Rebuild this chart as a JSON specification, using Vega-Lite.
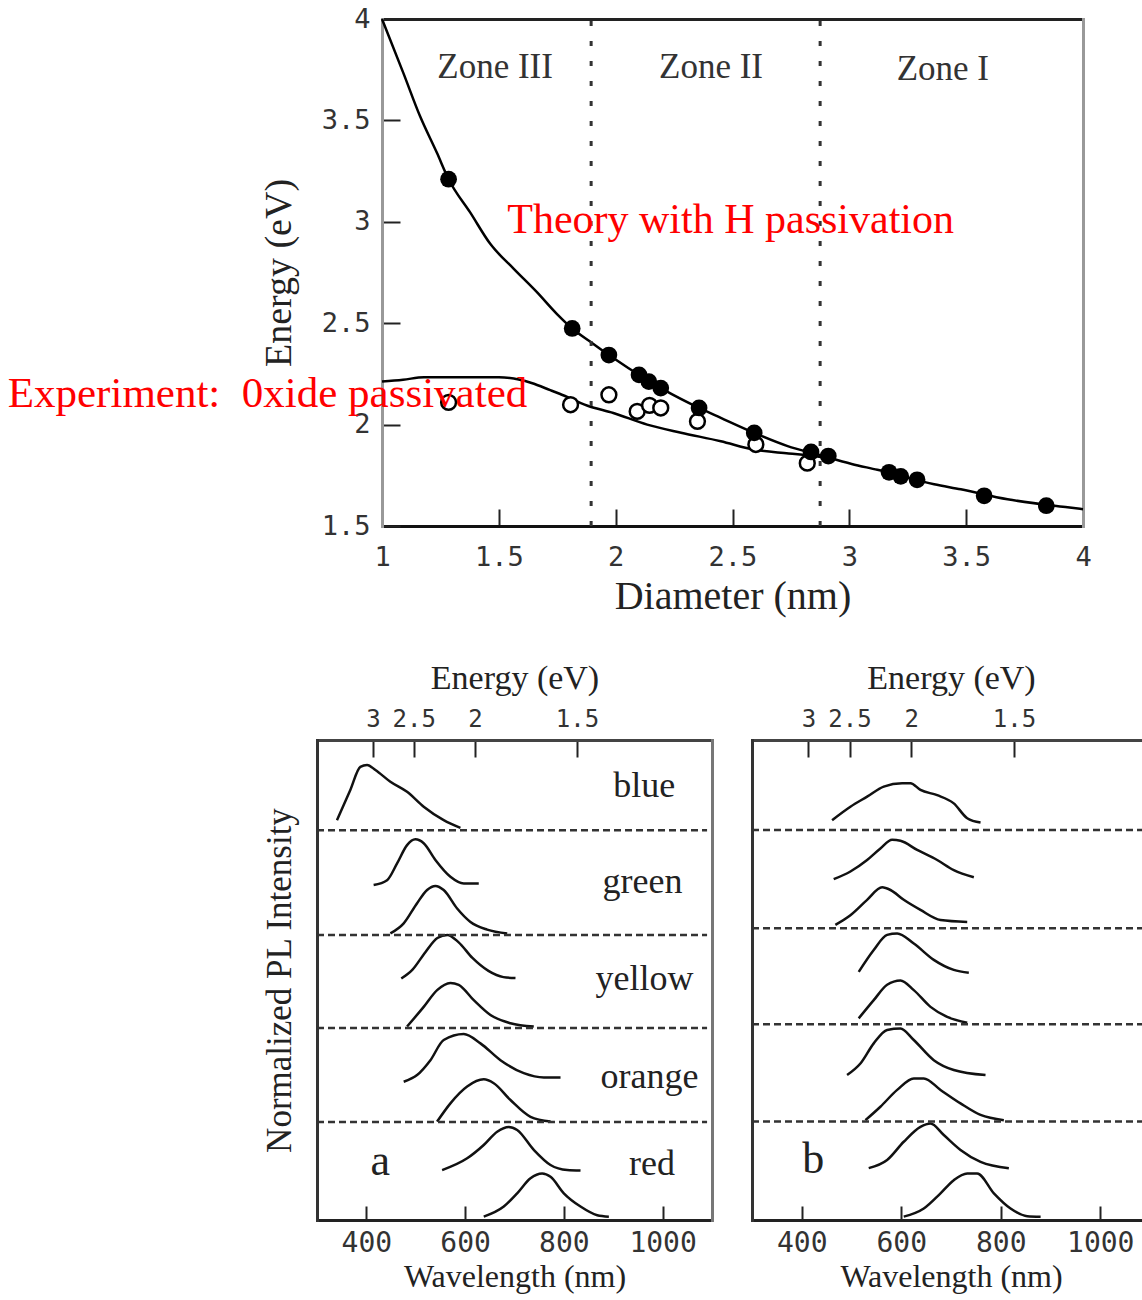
{
  "$schema": "https://vega.github.io/schema/vega-lite/v6.json",
  "width": 1142,
  "height": 1300,
  "autosize": {"type": "none"},
  "padding": 0,
  "background": "white",
  "config": {
    "view": {"stroke": null},
    "axis": {
      "grid": false, "domain": false, "labelFlush": false, "labelOverlap": false, "labelBound": false,
      "titleFontWeight": "normal", "titleFont": "Liberation Serif", "titleColor": "#222",
      "labelFont": "DejaVu Sans Mono", "labelColor": "#333", "tickColor": "#222", "tickWidth": 2,
      "minExtent": 0, "domainCap": "square"
    }
  },
  "datasets": {
    "curves": [
      {"s": "theory", "d": 1.0, "E": 4.0}, {"s": "theory", "d": 1.092, "E": 3.732}, {"s": "theory", "d": 1.163, "E": 3.52},
      {"s": "theory", "d": 1.235, "E": 3.34}, {"s": "theory", "d": 1.285, "E": 3.21}, {"s": "theory", "d": 1.378, "E": 3.045},
      {"s": "theory", "d": 1.464, "E": 2.89}, {"s": "theory", "d": 1.564, "E": 2.768}, {"s": "theory", "d": 1.663, "E": 2.653},
      {"s": "theory", "d": 1.749, "E": 2.545}, {"s": "theory", "d": 1.814, "E": 2.474}, {"s": "theory", "d": 1.892, "E": 2.408},
      {"s": "theory", "d": 1.971, "E": 2.343}, {"s": "theory", "d": 2.135, "E": 2.22}, {"s": "theory", "d": 2.207, "E": 2.171},
      {"s": "theory", "d": 2.357, "E": 2.082}, {"s": "theory", "d": 2.45, "E": 2.033}, {"s": "theory", "d": 2.593, "E": 1.959},
      {"s": "theory", "d": 2.736, "E": 1.894}, {"s": "theory", "d": 2.864, "E": 1.853}, {"s": "theory", "d": 3.01, "E": 1.806},
      {"s": "theory", "d": 3.12, "E": 1.777}, {"s": "theory", "d": 3.363, "E": 1.706}, {"s": "theory", "d": 3.477, "E": 1.681},
      {"s": "theory", "d": 3.677, "E": 1.632}, {"s": "theory", "d": 3.934, "E": 1.592}, {"s": "theory", "d": 4.0, "E": 1.583},
      {"s": "oxide", "d": 1.0, "E": 2.212}, {"s": "oxide", "d": 1.09, "E": 2.221}, {"s": "oxide", "d": 1.18, "E": 2.234},
      {"s": "oxide", "d": 1.5, "E": 2.234}, {"s": "oxide", "d": 1.59, "E": 2.221}, {"s": "oxide", "d": 1.64, "E": 2.205},
      {"s": "oxide", "d": 1.72, "E": 2.17}, {"s": "oxide", "d": 1.76, "E": 2.152}, {"s": "oxide", "d": 1.88, "E": 2.093},
      {"s": "oxide", "d": 1.99, "E": 2.057}, {"s": "oxide", "d": 2.135, "E": 2.0}, {"s": "oxide", "d": 2.28, "E": 1.96},
      {"s": "oxide", "d": 2.45, "E": 1.918}, {"s": "oxide", "d": 2.59, "E": 1.877}, {"s": "oxide", "d": 2.74, "E": 1.858},
      {"s": "oxide", "d": 2.85, "E": 1.845}, {"s": "oxide", "d": 2.93, "E": 1.828}
    ],
    "pts": [
      {"t": "open", "d": 1.285, "E": 2.11}, {"t": "open", "d": 1.807, "E": 2.098}, {"t": "open", "d": 1.971, "E": 2.147},
      {"t": "open", "d": 2.092, "E": 2.065}, {"t": "open", "d": 2.145, "E": 2.095}, {"t": "open", "d": 2.193, "E": 2.082},
      {"t": "open", "d": 2.35, "E": 2.016}, {"t": "open", "d": 2.6, "E": 1.902}, {"t": "open", "d": 2.82, "E": 1.81},
      {"t": "filled", "d": 1.285, "E": 3.21}, {"t": "filled", "d": 1.814, "E": 2.474}, {"t": "filled", "d": 1.971, "E": 2.343},
      {"t": "filled", "d": 2.1, "E": 2.245}, {"t": "filled", "d": 2.142, "E": 2.212}, {"t": "filled", "d": 2.193, "E": 2.18},
      {"t": "filled", "d": 2.357, "E": 2.082}, {"t": "filled", "d": 2.593, "E": 1.959}, {"t": "filled", "d": 2.836, "E": 1.865},
      {"t": "filled", "d": 2.91, "E": 1.845}, {"t": "filled", "d": 3.17, "E": 1.765}, {"t": "filled", "d": 3.22, "E": 1.745},
      {"t": "filled", "d": 3.29, "E": 1.728}, {"t": "filled", "d": 3.577, "E": 1.649}, {"t": "filled", "d": 3.843, "E": 1.6}
    ],
    "specA": [
      {"c": "a1", "w": 340.5, "i": 8.33}, {"c": "a1", "w": 367.5, "i": 8.96}, {"c": "a1", "w": 387.8, "i": 9.44}, {"c": "a1", "w": 401.4, "i": 9.48},
      {"c": "a1", "w": 418.3, "i": 9.375}, {"c": "a1", "w": 448.6, "i": 9.13}, {"c": "a1", "w": 482.4, "i": 8.92}, {"c": "a1", "w": 516.1, "i": 8.61},
      {"c": "a1", "w": 556.6, "i": 8.33}, {"c": "a1", "w": 590.5, "i": 8.17},
      {"c": "a2", "w": 414.7, "i": 6.98}, {"c": "a2", "w": 441.9, "i": 7.08}, {"c": "a2", "w": 462.2, "i": 7.43}, {"c": "a2", "w": 482.4, "i": 7.81},
      {"c": "a2", "w": 499.3, "i": 7.93}, {"c": "a2", "w": 516.1, "i": 7.85}, {"c": "a2", "w": 539.8, "i": 7.5}, {"c": "a2", "w": 570.2, "i": 7.15},
      {"c": "a2", "w": 597.2, "i": 7.01}, {"c": "a2", "w": 627.6, "i": 7.01},
      {"c": "a3", "w": 448.6, "i": 5.97}, {"c": "a3", "w": 475.6, "i": 6.18}, {"c": "a3", "w": 502.7, "i": 6.6}, {"c": "a3", "w": 523, "i": 6.875},
      {"c": "a3", "w": 539.8, "i": 6.96}, {"c": "a3", "w": 556.6, "i": 6.875}, {"c": "a3", "w": 583.8, "i": 6.49}, {"c": "a3", "w": 610.8, "i": 6.21},
      {"c": "a3", "w": 644.6, "i": 6.05}, {"c": "a3", "w": 685.2, "i": 5.97},
      {"c": "a4", "w": 470.7, "i": 5.03}, {"c": "a4", "w": 493, "i": 5.21}, {"c": "a4", "w": 519.5, "i": 5.58}, {"c": "a4", "w": 543.8, "i": 5.875},
      {"c": "a4", "w": 564, "i": 5.94}, {"c": "a4", "w": 586.4, "i": 5.79}, {"c": "a4", "w": 614.8, "i": 5.46}, {"c": "a4", "w": 647.2, "i": 5.19},
      {"c": "a4", "w": 677.6, "i": 5.06}, {"c": "a4", "w": 702, "i": 5.04},
      {"c": "a5", "w": 482.4, "i": 4.03}, {"c": "a5", "w": 516.1, "i": 4.44}, {"c": "a5", "w": 543.3, "i": 4.79}, {"c": "a5", "w": 570.2, "i": 4.94},
      {"c": "a5", "w": 587, "i": 4.9}, {"c": "a5", "w": 617.5, "i": 4.58}, {"c": "a5", "w": 651.3, "i": 4.27}, {"c": "a5", "w": 691.8, "i": 4.1},
      {"c": "a5", "w": 739, "i": 4.03},
      {"c": "a6", "w": 475.6, "i": 2.88}, {"c": "a6", "w": 502.7, "i": 3.02}, {"c": "a6", "w": 529.7, "i": 3.33}, {"c": "a6", "w": 556.6, "i": 3.75},
      {"c": "a6", "w": 597.2, "i": 3.875}, {"c": "a6", "w": 631, "i": 3.68}, {"c": "a6", "w": 671.6, "i": 3.33}, {"c": "a6", "w": 718.8, "i": 3.06},
      {"c": "a6", "w": 759.4, "i": 2.97}, {"c": "a6", "w": 793.2, "i": 2.97},
      {"c": "a7", "w": 543.3, "i": 2.05}, {"c": "a7", "w": 570.2, "i": 2.43}, {"c": "a7", "w": 604.1, "i": 2.78}, {"c": "a7", "w": 637.7, "i": 2.93},
      {"c": "a7", "w": 658, "i": 2.85}, {"c": "a7", "w": 691.8, "i": 2.5}, {"c": "a7", "w": 732.4, "i": 2.15}, {"c": "a7", "w": 773, "i": 2.05},
      {"c": "a8", "w": 553.4, "i": 1.04}, {"c": "a8", "w": 604.1, "i": 1.285}, {"c": "a8", "w": 637.7, "i": 1.5625}, {"c": "a8", "w": 664.9, "i": 1.84},
      {"c": "a8", "w": 688.4, "i": 1.94}, {"c": "a8", "w": 705.4, "i": 1.875}, {"c": "a8", "w": 739.1, "i": 1.46}, {"c": "a8", "w": 772.9, "i": 1.146},
      {"c": "a8", "w": 806.8, "i": 1.04}, {"c": "a8", "w": 833.7, "i": 1.03},
      {"c": "a9", "w": 637.7, "i": 0.07}, {"c": "a9", "w": 678.3, "i": 0.28}, {"c": "a9", "w": 705.4, "i": 0.556}, {"c": "a9", "w": 732.4, "i": 0.87},
      {"c": "a9", "w": 756.1, "i": 0.97}, {"c": "a9", "w": 773, "i": 0.9}, {"c": "a9", "w": 799.9, "i": 0.556}, {"c": "a9", "w": 833.7, "i": 0.28},
      {"c": "a9", "w": 867.6, "i": 0.1}, {"c": "a9", "w": 891.1, "i": 0.07}
    ],
    "specB": [
      {"c": "b1", "w": 461, "i": 8.33}, {"c": "b1", "w": 497.8, "i": 8.61}, {"c": "b1", "w": 531.4, "i": 8.82}, {"c": "b1", "w": 564.8, "i": 9.03},
      {"c": "b1", "w": 601.8, "i": 9.1}, {"c": "b1", "w": 618.5, "i": 9.1}, {"c": "b1", "w": 638.6, "i": 8.96}, {"c": "b1", "w": 672.2, "i": 8.85},
      {"c": "b1", "w": 705.6, "i": 8.68}, {"c": "b1", "w": 732.6, "i": 8.37}, {"c": "b1", "w": 759.4, "i": 8.28},
      {"c": "b2", "w": 464.2, "i": 7.1}, {"c": "b2", "w": 497.8, "i": 7.26}, {"c": "b2", "w": 531.4, "i": 7.5}, {"c": "b2", "w": 558.1, "i": 7.74},
      {"c": "b2", "w": 581.7, "i": 7.92}, {"c": "b2", "w": 598.4, "i": 7.9}, {"c": "b2", "w": 632, "i": 7.71}, {"c": "b2", "w": 672.2, "i": 7.5},
      {"c": "b2", "w": 705.6, "i": 7.29}, {"c": "b2", "w": 745.9, "i": 7.14},
      {"c": "b3", "w": 467.6, "i": 6.15}, {"c": "b3", "w": 497.8, "i": 6.35}, {"c": "b3", "w": 531.4, "i": 6.67}, {"c": "b3", "w": 561.6, "i": 6.93},
      {"c": "b3", "w": 578.3, "i": 6.875}, {"c": "b3", "w": 605, "i": 6.67}, {"c": "b3", "w": 638.6, "i": 6.46}, {"c": "b3", "w": 678.9, "i": 6.25},
      {"c": "b3", "w": 732.6, "i": 6.21},
      {"c": "b4", "w": 514.5, "i": 5.17}, {"c": "b4", "w": 544.7, "i": 5.625}, {"c": "b4", "w": 571.6, "i": 5.94}, {"c": "b4", "w": 591.8, "i": 5.97},
      {"c": "b4", "w": 625.2, "i": 5.76}, {"c": "b4", "w": 665.4, "i": 5.42}, {"c": "b4", "w": 705.6, "i": 5.21}, {"c": "b4", "w": 735.8, "i": 5.15},
      {"c": "b5", "w": 514.5, "i": 4.2}, {"c": "b5", "w": 544.7, "i": 4.58}, {"c": "b5", "w": 571.6, "i": 4.9}, {"c": "b5", "w": 598.4, "i": 4.99},
      {"c": "b5", "w": 625.2, "i": 4.79}, {"c": "b5", "w": 658.8, "i": 4.44}, {"c": "b5", "w": 692.4, "i": 4.23}, {"c": "b5", "w": 732.6, "i": 4.11},
      {"c": "b6", "w": 491.1, "i": 3.02}, {"c": "b6", "w": 517.9, "i": 3.26}, {"c": "b6", "w": 544.7, "i": 3.68}, {"c": "b6", "w": 571.6, "i": 3.96},
      {"c": "b6", "w": 598.4, "i": 3.99}, {"c": "b6", "w": 625.2, "i": 3.75}, {"c": "b6", "w": 665.4, "i": 3.33}, {"c": "b6", "w": 705.6, "i": 3.125},
      {"c": "b6", "w": 769.4, "i": 3.02},
      {"c": "b7", "w": 528, "i": 2.08}, {"c": "b7", "w": 558.1, "i": 2.36}, {"c": "b7", "w": 591.8, "i": 2.71}, {"c": "b7", "w": 625.2, "i": 2.95},
      {"c": "b7", "w": 645.3, "i": 2.95}, {"c": "b7", "w": 678.9, "i": 2.71}, {"c": "b7", "w": 719.1, "i": 2.43}, {"c": "b7", "w": 759.4, "i": 2.19},
      {"c": "b7", "w": 806.2, "i": 2.08},
      {"c": "b8", "w": 534.6, "i": 1.08}, {"c": "b8", "w": 571.6, "i": 1.25}, {"c": "b8", "w": 605, "i": 1.63}, {"c": "b8", "w": 638.6, "i": 1.94},
      {"c": "b8", "w": 658.8, "i": 2.01}, {"c": "b8", "w": 685.5, "i": 1.77}, {"c": "b8", "w": 719.1, "i": 1.46}, {"c": "b8", "w": 759.4, "i": 1.21},
      {"c": "b8", "w": 816.3, "i": 1.08},
      {"c": "b9", "w": 605, "i": 0.07}, {"c": "b9", "w": 645.3, "i": 0.24}, {"c": "b9", "w": 678.9, "i": 0.556}, {"c": "b9", "w": 705.6, "i": 0.83},
      {"c": "b9", "w": 732.6, "i": 0.97}, {"c": "b9", "w": 752.7, "i": 0.97}, {"c": "b9", "w": 786.2, "i": 0.556}, {"c": "b9", "w": 819.7, "i": 0.24},
      {"c": "b9", "w": 853.3, "i": 0.08}, {"c": "b9", "w": 880.1, "i": 0.07}
    ]
  },
  "layer": [
    {
      "data": {"name": "curves"},
      "mark": {"type": "line", "color": "black", "strokeWidth": 2.5, "interpolate": "monotone"},
      "encoding": {
        "x": {"field": "d", "type": "quantitative",
          "scale": {"domain": [1, 4], "range": [382, 1083], "nice": false, "zero": false},
          "axis": {"orient": "bottom", "offset": -774, "values": [1, 1.5, 2, 2.5, 3, 3.5, 4], "format": "~g", "tickSize": -17, "labelPadding": 35,
            "labelFontSize": 27, "title": "Diameter (nm)", "titleFontSize": 40, "titlePadding": 6,
            "domain": true, "domainColor": "#111", "domainWidth": 3}},
        "y": {"field": "E", "type": "quantitative",
          "scale": {"domain": [1.5, 4], "range": [526, 19], "nice": false, "zero": false},
          "axis": {"orient": "left", "offset": -382, "values": [1.5, 2, 2.5, 3, 3.5, 4], "format": "~g", "tickSize": -18, "labelPadding": 30,
            "labelFontSize": 27, "title": "Energy (eV)", "titleFontSize": 38, "titlePadding": 23,
            "domain": true, "domainColor": "#999", "domainWidth": 3}},
        "detail": {"field": "s"}
      }
    },
    {
      "data": {"values": [{"z": 1.895}, {"z": 2.875}]},
      "mark": {"type": "rule", "strokeDash": [5, 15], "strokeWidth": 3, "color": "#333"},
      "encoding": {
        "x": {"field": "z", "type": "quantitative",
          "scale": {"domain": [1, 4], "range": [382, 1083], "nice": false, "zero": false},
          "axis": {"orient": "top", "offset": -19, "ticks": false, "labels": false, "title": null,
            "domain": true, "domainColor": "#222", "domainWidth": 3}},
        "y": {"datum": 1.5, "type": "quantitative",
          "scale": {"domain": [1.5, 4], "range": [526, 19], "nice": false, "zero": false},
          "axis": {"orient": "right", "offset": -59, "ticks": false, "labels": false, "title": null,
            "domain": true, "domainColor": "#999", "domainWidth": 3}},
        "y2": {"datum": 4}
      }
    },
    {
      "data": {"name": "pts"},
      "transform": [{"filter": "datum.t == 'open'"}],
      "mark": {"type": "point", "shape": "circle", "filled": true, "fill": "white", "stroke": "black", "strokeWidth": 2.5, "size": 220, "opacity": 1},
      "encoding": {
        "x": {"field": "d", "type": "quantitative", "scale": {"domain": [1, 4], "range": [382, 1083], "nice": false, "zero": false}, "axis": null},
        "y": {"field": "E", "type": "quantitative", "scale": {"domain": [1.5, 4], "range": [526, 19], "nice": false, "zero": false}, "axis": null}
      }
    },
    {
      "data": {"name": "pts"},
      "transform": [{"filter": "datum.t == 'filled'"}],
      "mark": {"type": "circle", "color": "black", "size": 280, "opacity": 1},
      "encoding": {
        "x": {"field": "d", "type": "quantitative", "scale": {"domain": [1, 4], "range": [382, 1083], "nice": false, "zero": false}, "axis": null},
        "y": {"field": "E", "type": "quantitative", "scale": {"domain": [1.5, 4], "range": [526, 19], "nice": false, "zero": false}, "axis": null}
      }
    },
    {
      "data": {"values": [{"d": 1.484, "E": 3.71, "t": "Zone III"}, {"d": 2.408, "E": 3.71, "t": "Zone II"}, {"d": 3.4, "E": 3.7, "t": "Zone I"}]},
      "mark": {"type": "text", "font": "Liberation Serif", "fontSize": 35, "color": "#333", "align": "center", "baseline": "alphabetic"},
      "encoding": {
        "x": {"field": "d", "type": "quantitative", "scale": {"domain": [1, 4], "range": [382, 1083], "nice": false, "zero": false}, "axis": null},
        "y": {"field": "E", "type": "quantitative", "scale": {"domain": [1.5, 4], "range": [526, 19], "nice": false, "zero": false}, "axis": null},
        "text": {"field": "t"}
      }
    },
    {
      "data": {"values": [{"d": 1.536, "E": 2.943, "t": "Theory with H passivation"}]},
      "mark": {"type": "text", "font": "Liberation Serif", "fontSize": 42, "color": "#ff0000", "align": "left", "baseline": "alphabetic"},
      "encoding": {
        "x": {"field": "d", "type": "quantitative", "scale": {"domain": [1, 4], "range": [382, 1083], "nice": false, "zero": false}, "axis": null},
        "y": {"field": "E", "type": "quantitative", "scale": {"domain": [1.5, 4], "range": [526, 19], "nice": false, "zero": false}, "axis": null},
        "text": {"field": "t"}
      }
    },
    {
      "data": {"values": [{"d": 1.6215, "E": 2.089, "t": "Experiment:\u00a0 0xide passivated"}]},
      "mark": {"type": "text", "font": "Liberation Serif", "fontSize": 43, "color": "#ff0000", "align": "right", "baseline": "alphabetic"},
      "encoding": {
        "x": {"field": "d", "type": "quantitative", "scale": {"domain": [1, 4], "range": [382, 1083], "nice": false, "zero": false}, "axis": null},
        "y": {"field": "E", "type": "quantitative", "scale": {"domain": [1.5, 4], "range": [526, 19], "nice": false, "zero": false}, "axis": null},
        "text": {"field": "t"}
      }
    },
    {
      "data": {"name": "specA"},
      "mark": {"type": "line", "color": "#111", "strokeWidth": 2.5, "interpolate": "monotone"},
      "encoding": {
        "x": {"field": "w", "type": "quantitative",
          "scale": {"domain": [300, 1100], "range": [317, 712], "nice": false, "zero": false},
          "axis": {"orient": "bottom", "offset": -80, "values": [400, 600, 800, 1000], "format": "d", "tickSize": -14, "labelPadding": 23,
            "labelFontSize": 28, "title": "Wavelength (nm)", "titleFontSize": 32, "titlePadding": 4,
            "domain": true, "domainColor": "#222", "domainWidth": 3}},
        "y": {"field": "i", "type": "quantitative",
          "scale": {"domain": [0, 10], "range": [1220, 740], "nice": false, "zero": false},
          "axis": {"orient": "left", "offset": -317, "ticks": false, "labels": false, "title": "Normalized PL Intensity",
            "titleFontSize": 35, "titlePadding": 20, "domain": true, "domainColor": "#333", "domainWidth": 3}},
        "detail": {"field": "c"}
      }
    },
    {
      "data": {"values": [{"b": 2.04}, {"b": 4.0}, {"b": 5.94}, {"b": 8.12}]},
      "mark": {"type": "rule", "strokeDash": [7, 4], "strokeWidth": 2.5, "color": "#333"},
      "encoding": {
        "x": {"datum": 300, "type": "quantitative", "scale": {"domain": [300, 1100], "range": [317, 712], "nice": false, "zero": false}, "axis": null},
        "x2": {"datum": 1090},
        "y": {"field": "b", "type": "quantitative",
          "scale": {"domain": [0, 10], "range": [1220, 740], "nice": false, "zero": false},
          "axis": {"orient": "right", "offset": -430, "ticks": false, "labels": false, "title": null,
            "domain": true, "domainColor": "#777", "domainWidth": 3}}
      }
    },
    {
      "data": {"values": [{"w": 962.5, "i": 8.81, "t": "blue"}, {"w": 959.4, "i": 6.81, "t": "green"}, {"w": 963.5, "i": 4.79, "t": "yellow"}, {"w": 973.6, "i": 2.75, "t": "orange"}, {"w": 978.7, "i": 0.94, "t": "red"}]},
      "mark": {"type": "text", "font": "Liberation Serif", "fontSize": 36, "color": "#222", "align": "center", "baseline": "alphabetic"},
      "encoding": {
        "x": {"field": "w", "type": "quantitative",
          "scale": {"domain": [300, 1100], "range": [317, 712], "nice": false, "zero": false},
          "axis": {"orient": "top", "offset": -740, "values": [413.3333, 496, 620, 826.6667], "labelExpr": "format(1240 / datum.value, '.2~g')",
            "tickSize": -17, "labelPadding": 26, "labelFontSize": 24, "title": "Energy (eV)", "titleFontSize": 34, "titlePadding": 12,
            "domain": true, "domainColor": "#444", "domainWidth": 3}},
        "y": {"field": "i", "type": "quantitative", "scale": {"domain": [0, 10], "range": [1220, 740], "nice": false, "zero": false}, "axis": null},
        "text": {"field": "t"}
      }
    },
    {
      "data": {"values": [{"w": 428, "i": 0.94, "t": "a"}]},
      "mark": {"type": "text", "font": "Liberation Serif", "fontSize": 44, "color": "#222", "align": "center", "baseline": "alphabetic"},
      "encoding": {
        "x": {"field": "w", "type": "quantitative", "scale": {"domain": [300, 1100], "range": [317, 712], "nice": false, "zero": false}, "axis": null},
        "y": {"field": "i", "type": "quantitative", "scale": {"domain": [0, 10], "range": [1220, 740], "nice": false, "zero": false}, "axis": null},
        "text": {"field": "t"}
      }
    },
    {
      "data": {"name": "specB"},
      "mark": {"type": "line", "color": "#111", "strokeWidth": 2.5, "interpolate": "monotone"},
      "encoding": {
        "x": {"field": "w", "type": "quantitative",
          "scale": {"domain": [300, 1100], "range": [752, 1150], "nice": false, "zero": false},
          "axis": {"orient": "bottom", "offset": -80, "values": [400, 600, 800, 1000], "format": "d", "tickSize": -14, "labelPadding": 23,
            "labelFontSize": 28, "title": "Wavelength (nm)", "titleFontSize": 32, "titlePadding": 4,
            "domain": true, "domainColor": "#222", "domainWidth": 3}},
        "y": {"field": "i", "type": "quantitative",
          "scale": {"domain": [0, 10], "range": [1220, 740], "nice": false, "zero": false},
          "axis": {"orient": "left", "offset": -752, "ticks": false, "labels": false, "title": null,
            "domain": true, "domainColor": "#333", "domainWidth": 3}},
        "detail": {"field": "c"}
      }
    },
    {
      "data": {"values": [{"b": 2.05}, {"b": 4.08}, {"b": 6.08}, {"b": 8.125}]},
      "mark": {"type": "rule", "strokeDash": [7, 4], "strokeWidth": 2.5, "color": "#333"},
      "encoding": {
        "x": {"datum": 300, "type": "quantitative", "scale": {"domain": [300, 1100], "range": [752, 1150], "nice": false, "zero": false}, "axis": null},
        "x2": {"datum": 1100},
        "y": {"field": "b", "type": "quantitative", "scale": {"domain": [0, 10], "range": [1220, 740], "nice": false, "zero": false}, "axis": null}
      }
    },
    {
      "data": {"values": [{"w": 423, "i": 0.98, "t": "b"}]},
      "mark": {"type": "text", "font": "Liberation Serif", "fontSize": 44, "color": "#222", "align": "center", "baseline": "alphabetic"},
      "encoding": {
        "x": {"field": "w", "type": "quantitative",
          "scale": {"domain": [300, 1100], "range": [752, 1150], "nice": false, "zero": false},
          "axis": {"orient": "top", "offset": -740, "values": [413.3333, 496, 620, 826.6667], "labelExpr": "format(1240 / datum.value, '.2~g')",
            "tickSize": -17, "labelPadding": 26, "labelFontSize": 24, "title": "Energy (eV)", "titleFontSize": 34, "titlePadding": 12,
            "domain": true, "domainColor": "#444", "domainWidth": 3}},
        "y": {"field": "i", "type": "quantitative", "scale": {"domain": [0, 10], "range": [1220, 740], "nice": false, "zero": false}, "axis": null},
        "text": {"field": "t"}
      }
    }
  ],
  "resolve": {
    "scale": {"x": "independent", "y": "independent"},
    "axis": {"x": "independent", "y": "independent"}
  }
}
